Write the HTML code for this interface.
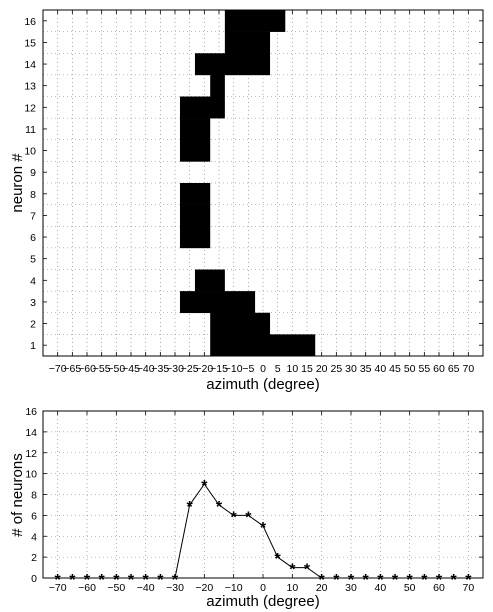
<!DOCTYPE html>
<html><head><meta charset="utf-8"><style>
body{margin:0;background:#fff}
svg{display:block;font-family:"Liberation Sans",Arial,sans-serif}
</style></head><body>
<svg id="c" width="493" height="612" viewBox="0 0 493 612"></svg>
<script>
// top chart data: rows 1..16, spans of tuning [start, end] in degrees (null = none)
const rowStarts = [-18, -18, -28.3, -23.2, null, -28.3, -28.3, -28.3, null, -28.3, -28.3, -28.3, -18, -23.2, -13, -13];
const rowEnds   = [17.8, 2.4, -2.7, -13, null, -18, -18, -18, null, -18, -18, -13, -13, 2.4, 2.4, 7.6];
const topTicks = [-70,-65,-60,-55,-50,-45,-40,-35,-30,-25,-20,-15,-10,-5,0,5,10,15,20,25,30,35,40,45,50,55,60,65,70];
// bottom chart data
const azimuths = [-70,-65,-60,-55,-50,-45,-40,-35,-30,-25,-20,-15,-10,-5,0,5,10,15,20,25,30,35,40,45,50,55,60,65,70];
const counts   = [0,0,0,0,0,0,0,0,0,7,9,7,6,6,5,2,1,1,0,0,0,0,0,0,0,0,0,0,0];
const botXTicks = [-70,-60,-50,-40,-30,-20,-10,0,10,20,30,40,50,60,70];
const botYTicks = [0,2,4,6,8,10,12,14,16];

const NS="http://www.w3.org/2000/svg";
const svg=document.getElementById('c');
function el(t,a,p){const e=document.createElementNS(NS,t);for(const k in a)e.setAttribute(k,a[k]);(p||svg).appendChild(e);return e;}
const L=43,R=483;
const xs=v=>L+(v+75)/150*(R-L);

// ---------- TOP ----------
const T1=10,B1=356;
const g1=el('g',{});


const rowH=(B1-T1)/16;
const yRow=i=>B1-i*rowH;
topTicks.forEach(v=>{const l=el('line',{x1:xs(v),x2:xs(v),y1:T1,y2:B1,stroke:'#777','stroke-width':0.6,'stroke-dasharray':'1,3'},g1);

});
for(let i=1;i<16;i++){const l=el('line',{x1:L,x2:R,y1:yRow(i),y2:yRow(i),stroke:'#777','stroke-width':0.6,'stroke-dasharray':'1,3'},g1);

}
rowStarts.forEach((s,i)=>{if(s===null)return;
const r=el('rect',{x:xs(s),y:yRow(i+1),width:xs(rowEnds[i])-xs(s),height:rowH+0.3,fill:'#000'},g1);

});
el('rect',{x:L,y:T1,width:R-L,height:B1-T1,fill:'none',stroke:'#000','stroke-width':1},g1);
topTicks.forEach(v=>{el('line',{x1:xs(v),x2:xs(v),y1:B1,y2:B1-4,stroke:'#000','stroke-width':0.8},g1);el('line',{x1:xs(v),x2:xs(v),y1:T1,y2:T1+4,stroke:'#000','stroke-width':0.8},g1);
const t=el('text',{x:xs(v),y:B1+16,'font-size':10.5,'text-anchor':'middle'},g1);t.textContent=v<0?'\u2212'+(-v):v;

});
for(let i=1;i<=16;i++){const yc=yRow(i)+rowH/2;
el('line',{x1:L,x2:L+4,y1:yc,y2:yc,stroke:'#000','stroke-width':0.8},g1);
el('line',{x1:R,x2:R-4,y1:yc,y2:yc,stroke:'#000','stroke-width':0.8},g1);
const t=el('text',{x:36,y:yc+4,'font-size':10.5,'text-anchor':'end'},g1);t.textContent=i;

}
let t=el('text',{x:263,y:389,'font-size':15,'text-anchor':'middle'},g1);t.textContent='azimuth (degree)';


t=el('text',{x:0,y:0,'font-size':15,'text-anchor':'middle',transform:'translate(22,183) rotate(-90)'},g1);t.textContent='neuron #';



// ---------- BOTTOM ----------
const T2=411,B2=578;
const ys=v=>B2-v/16*(B2-T2);
const g2=el('g',{});


botXTicks.forEach(v=>{const l=el('line',{x1:xs(v),x2:xs(v),y1:T2,y2:B2,stroke:'#777','stroke-width':0.6,'stroke-dasharray':'1,3'},g2);

});
botYTicks.forEach(v=>{const l=el('line',{x1:L,x2:R,y1:ys(v),y2:ys(v),stroke:'#777','stroke-width':0.6,'stroke-dasharray':'1,3'},g2);

});
el('rect',{x:L,y:T2,width:R-L,height:B2-T2,fill:'none',stroke:'#000','stroke-width':1},g2);
botXTicks.forEach(v=>{el('line',{x1:xs(v),x2:xs(v),y1:B2,y2:B2-4,stroke:'#000','stroke-width':0.8},g2);el('line',{x1:xs(v),x2:xs(v),y1:T2,y2:T2+4,stroke:'#000','stroke-width':0.8},g2);
const t=el('text',{x:xs(v),y:B2+13,'font-size':10.5,'text-anchor':'middle'},g2);t.textContent=v<0?'\u2212'+(-v):v;

});
botYTicks.forEach(v=>{el('line',{x1:L,x2:L+4,y1:ys(v),y2:ys(v),stroke:'#000','stroke-width':0.8},g2);el('line',{x1:R,x2:R-4,y1:ys(v),y2:ys(v),stroke:'#000','stroke-width':0.8},g2);
const t=el('text',{x:37,y:ys(v)+4,'font-size':10.5,'text-anchor':'end'},g2);t.textContent=v;

});
const pl=el('polyline',{points:azimuths.map((a,i)=>xs(a)+','+ys(counts[i])).join(' '),fill:'none',stroke:'#000','stroke-width':1},g2);


azimuths.forEach((a,i)=>{const m=el('text',{x:xs(a),y:ys(counts[i])+7,'font-size':16,'text-anchor':'middle','font-weight':'bold'},g2);m.textContent='*';

});
t=el('text',{x:263,y:606,'font-size':15,'text-anchor':'middle'},g2);t.textContent='azimuth (degree)';


t=el('text',{x:0,y:0,'font-size':15,'text-anchor':'middle',transform:'translate(22,495) rotate(-90)'},g2);t.textContent='# of neurons';


</script>
</body></html>
